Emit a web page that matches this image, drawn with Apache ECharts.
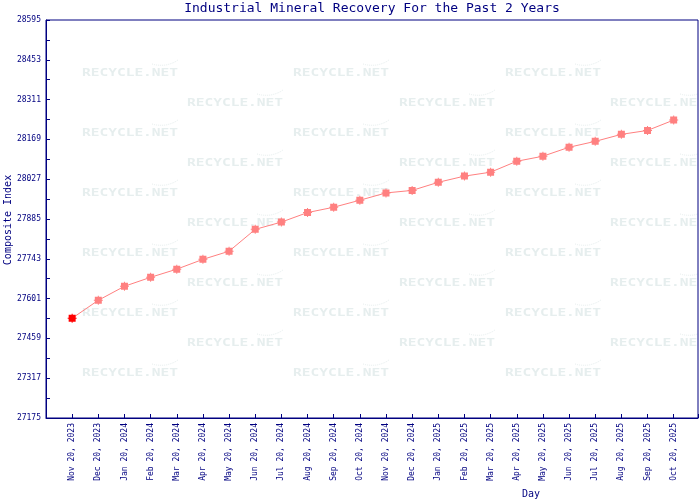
<!DOCTYPE html>
<html><head><meta charset="utf-8">
<script src="https://cdn.jsdelivr.net/npm/echarts@6/dist/echarts.min.js"></script>
<style>html,body{margin:0;padding:0;background:#fff}#c{width:700px;height:500px}</style>
</head><body><div id="c"></div>
<script>
const months = ['Nov 20, 2023','Dec 20, 2023','Jan 20, 2024','Feb 20, 2024','Mar 20, 2024','Apr 20, 2024','May 20, 2024','Jun 20, 2024','Jul 20, 2024','Aug 20, 2024','Sep 20, 2024','Oct 20, 2024','Nov 20, 2024','Dec 20, 2024','Jan 20, 2025','Feb 20, 2025','Mar 20, 2025','Apr 20, 2025','May 20, 2025','Jun 20, 2025','Jul 20, 2025','Aug 20, 2025','Sep 20, 2025','Oct 20, 2025'];
const values = [27531,27595,27645,27677,27706,27741,27770,27848,27874,27908,27927,27952,27978,27987,28016,28038,28052,28091,28109,28141,28162,28187,28201,28238];
const yTickLabels = ['27175','27317','27459','27601','27743','27885','28027','28169','28311','28453','28595'];
const yMin = 27175, yStep = 142;

const navy = '#000080';
const mono = '"DejaVu Sans Mono", monospace';

const data = values.map((v, i) => {
  const d = { value: [i, v - yMin] };
  if (i === 0) d.itemStyle = { color: '#ff0000' };
  return d;
});

// watermark decoration
const wm = [];
const rowsA = [73, 133, 193, 253, 313, 373], colsA = [82, 293, 505];
const rowsB = [103, 163, 223, 283, 343], colsB = [187, 399, 610];
function addWm(x, y) {
  wm.push({ type: 'text', x: x, y: y, scaleX: 1.45, z: -2, silent: true,
    style: { text: 'RECYCLE.NET', x: 0, y: 0, fill: '#e6eeee', font: 'bold 10px "DejaVu Sans Mono"', textVerticalAlign: 'middle' } });
  wm.push({ type: 'bezierCurve', z: -2, silent: true,
    shape: { x1: x + 70, y1: y - 9, x2: x + 96, y2: y - 13, cpx1: x + 84, cpy1: y - 5 },
    style: { stroke: '#e6eeee', lineWidth: 1, fill: null, lineDash: [1, 1] } });
}
rowsA.forEach(y => colsA.forEach(x => addWm(x, y)));
rowsB.forEach(y => colsB.forEach(x => addWm(x, y)));
wm.push({ type: 'rect', z: -1, silent: true, shape: { x: 698, y: 0, width: 5, height: 500 }, style: { fill: '#fff' } });
wm.push({ type: 'text', x: 531, y: 494, silent: true,
  style: { text: 'Day', fill: navy, font: '10px "DejaVu Sans Mono"', textAlign: 'center', textVerticalAlign: 'middle' } });
wm.push({ type: 'text', x: 8, y: 220, rotation: Math.PI / 2, silent: true,
  style: { text: 'Composite Index', fill: navy, font: '10px "DejaVu Sans Mono"', textAlign: 'center', textVerticalAlign: 'middle' } });

const chart = echarts.init(document.getElementById('c'), null, { renderer: 'canvas' });
chart.setOption({
  animation: false,
  backgroundColor: '#ffffff',
  title: {
    text: 'Industrial Mineral Recovery For the Past 2 Years',
    left: 372, top: 2, textAlign: 'center', padding: 0,
    textStyle: { color: navy, fontFamily: mono, fontSize: 13, fontWeight: 'normal' }
  },
  grid: { left: 46, right: 2, top: 20, bottom: 82, containLabel: false, outerBoundsMode: 'none',
    show: true, borderColor: navy, borderWidth: 1, backgroundColor: 'transparent' },
  xAxis: {
    type: 'value', min: -1, max: 23.93, interval: 1,
    axisLine: { show: true, onZero: false, lineStyle: { color: navy, width: 1 } },
    axisTick: { show: true, inside: true, length: 4, lineStyle: { color: navy } },
    splitLine: { show: false },
    axisLabel: {
      rotate: 90, margin: 5, color: navy, fontFamily: mono, fontSize: 8,
      showMinLabel: true, showMaxLabel: true,
      formatter: v => (Number.isInteger(v) && months[v]) ? months[v] : ''
    }
  },
  yAxis: {
    type: 'value', min: 0, max: (yTickLabels.length - 1) * yStep, interval: yStep,
    axisLine: { show: true, onZero: false, lineStyle: { color: navy, width: 1 } },
    axisTick: { show: true, inside: true, length: 4, lineStyle: { color: navy } },
    minorTick: { show: true, splitNumber: 2, length: 4, lineStyle: { color: navy } },
    splitLine: { show: false },
    axisLabel: {
      margin: 5, color: navy, fontFamily: mono, fontSize: 8,
      formatter: v => yTickLabels[Math.round(v / yStep)] || ''
    }
  },
  graphic: wm,
  series: [{
    type: 'line', data: data,
    lineStyle: { color: '#ff8080', width: 1 },
    itemStyle: { color: '#ff8080' },
    symbol: 'path://M1,1H8V8H1Z M4,0H5V9H4Z M0,4H9V5H0Z',
    symbolSize: 9,
    showAllSymbol: true
  }]
});
</script>
</body></html>
